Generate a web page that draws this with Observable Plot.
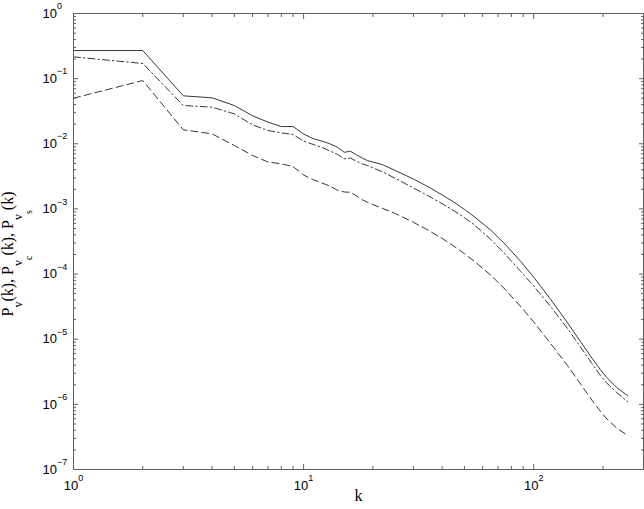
<!DOCTYPE html>
<html>
<head>
<meta charset="utf-8">
<script src="https://cdn.jsdelivr.net/npm/d3@7"></script>
<script src="https://cdn.jsdelivr.net/npm/@observablehq/plot@0.6"></script>
<style>
  html, body { margin: 0; padding: 0; background: #fff; }
  #chart svg { display: block; }
</style>
</head>
<body>
<div id="chart"></div>
<script>
// wavenumber bins
const k = [1,2,3,4,5,6,7,8,9,10,11,12,13,14,15,16,17,18,19,20,22,25,30,35,40,45,50,55,65,75,88,100,118,140,160,180,195,208,230,256];
// P_v(k)  (solid)
const Pv = [0.270,0.270,0.0545,0.0507,0.0387,0.0269,0.0215,0.0184,0.0184,0.0141,0.0120,0.0110,0.0100,0.00891,0.00741,0.00767,0.00676,0.00603,0.00550,0.00525,0.00479,0.00389,0.00288,0.00216,0.00164,0.00127,0.000984,0.000767,0.000473,0.000289,0.000155,8.93e-5,4.17e-5,1.80e-5,9.12e-6,5.00e-6,3.40e-6,2.58e-6,1.80e-6,1.36e-6];
// P_vc(k)  (dash-dot)
const Pvc = [0.216,0.171,0.0387,0.0365,0.0288,0.0195,0.0160,0.0147,0.0139,0.0110,0.00977,0.00881,0.00776,0.00692,0.00589,0.00603,0.00537,0.00490,0.00462,0.00427,0.00372,0.00295,0.00210,0.00157,0.00120,0.000938,0.000736,0.000574,0.000342,0.000204,0.000109,6.56e-5,3.22e-5,1.47e-5,7.53e-6,4.13e-6,2.77e-6,2.11e-6,1.51e-6,1.10e-6];
// P_vs(k)  (dashed)
const Pvs = [0.0501,0.0935,0.0164,0.0142,0.00942,0.00661,0.00525,0.00493,0.00447,0.00331,0.00282,0.00251,0.00224,0.00195,0.00182,0.00180,0.00158,0.00138,0.00126,0.00117,0.00102,0.000851,0.000624,0.000466,0.000352,0.000268,0.000206,0.000159,9.66e-5,5.86e-5,3.14e-5,1.84e-5,8.71e-6,3.97e-6,2.04e-6,1.13e-6,7.82e-7,5.96e-7,4.28e-7,3.34e-7];

// tick values
const xMajor = [1, 10, 100];
const xMinor = [2,3,4,5,6,7,8,9,20,30,40,50,60,70,80,90,200];
const yMajor = [1e-7,1e-6,1e-5,1e-4,1e-3,1e-2,1e-1,1];
const yMinorMult = [2,3,4,5,6,7,8,9];
const yMinor = yMajor.slice(0, -1).flatMap(d => yMinorMult.map(m => m * d));

const series = [
  {name: "Pv",  values: Pv,  dash: null},
  {name: "Pvc", values: Pvc, dash: "7,3,1.5,3"},
  {name: "Pvs", values: Pvs, dash: "7,4"}
];

const expFmt = d => "10^" + Math.round(Math.log10(d));
const axisColor = "#606060";
const lineColor = "#383838";
const tickFont = "'Liberation Sans', Arial, Helvetica, sans-serif";
const serif = "'Liberation Serif', 'Times New Roman', Times, serif";

const lineMarks = series.map(s =>
  Plot.line(k.map((kk, i) => ({k: kk, v: s.values[i]})), {
    x: "k", y: "v", stroke: lineColor, strokeWidth: 1,
    strokeDasharray: s.dash, curve: "linear"
  })
);

const chart = Plot.plot({
  width: 644,
  height: 509,
  marginLeft: 73,
  marginRight: 1,
  marginTop: 13,
  marginBottom: 40,
  style: {background: "#fff", fontFamily: tickFont, fontSize: "13px", color: "#000"},
  x: {type: "log", domain: [1, 300], axis: null, label: null},
  y: {type: "log", domain: [1e-7, 1], axis: null, label: null},
  marks: [
    ...lineMarks,
    // inward minor ticks on all four sides
    Plot.axisX({anchor: "bottom", ticks: xMinor, tickSize: -3, tickFormat: () => "", stroke: axisColor, label: null}),
    Plot.axisX({anchor: "top", ticks: xMinor, tickSize: -3, tickFormat: () => "", stroke: axisColor, label: null}),
    Plot.axisY({anchor: "left", ticks: yMinor, tickSize: -3, tickFormat: () => "", stroke: axisColor, label: null}),
    Plot.axisY({anchor: "right", ticks: yMinor, tickSize: -3, tickFormat: () => "", stroke: axisColor, label: null}),
    // inward major ticks
    Plot.axisX({anchor: "top", ticks: xMajor, tickSize: -5, tickFormat: () => "", stroke: axisColor, label: null}),
    Plot.axisY({anchor: "right", ticks: yMajor, tickSize: -5, tickFormat: () => "", stroke: axisColor, label: null}),
    Plot.axisX({anchor: "bottom", ticks: xMajor, tickSize: -5, tickFormat: () => "", stroke: axisColor, label: null}),
    Plot.axisY({anchor: "left", ticks: yMajor, tickSize: -5, tickFormat: () => "", stroke: axisColor, label: null}),
    // labels
    Plot.axisX({anchor: "bottom", ticks: xMajor, tickSize: 0, tickPadding: 11, tickFormat: expFmt, fill: "#000", label: null}),
    Plot.axisY({anchor: "left", ticks: yMajor, tickSize: 0, tickPadding: 0, dx: -31, textAnchor: "start", tickFormat: expFmt, fill: "#000", label: null}),
    Plot.frame({stroke: axisColor}),
    Plot.text(["k"], {frameAnchor: "bottom", dy: 31, lineAnchor: "bottom", fontFamily: serif, fontSize: 16, fill: "#000"})
  ]
});

document.getElementById("chart").appendChild(chart);

// superscript exponents in tick labels
const svg = d3.select(chart.tagName.toLowerCase() === "svg" ? chart : chart.querySelector("svg"));
svg.selectAll("text").each(function() {
  const t = this.textContent;
  const m = /^10\^(-?\d+)$/.exec(t);
  if (!m) return;
  const sel = d3.select(this);
  sel.selectAll("*").remove();
  sel.text(null);
  sel.append("tspan").text("10");
  sel.append("tspan").attr("dy", -8.5).attr("font-size", 9).text(m[1].replace("-", "\u2212"));
});

// rotated y-axis label with nested subscripts
const ylab = svg.append("text")
  .attr("transform", "translate(13,254) rotate(-90)")
  .attr("text-anchor", "middle")
  .attr("fill", "#000")
  .style("font-family", serif)
  .style("font-size", "16px");
const parts = [
  ["P", 0, 16], ["v", 9, 12], ["(k), P", 0, 16],
  ["v", 9, 12], ["c", 19, 10], ["(k), P", 0, 16],
  ["v", 9, 12], ["s", 19, 10], ["(k)", 0, 16]
];
let cur = 0;
for (const [txt, off, size] of parts) {
  ylab.append("tspan").attr("dy", off - cur).attr("font-size", size).text(txt);
  cur = off;
}
</script>
</body>
</html>
